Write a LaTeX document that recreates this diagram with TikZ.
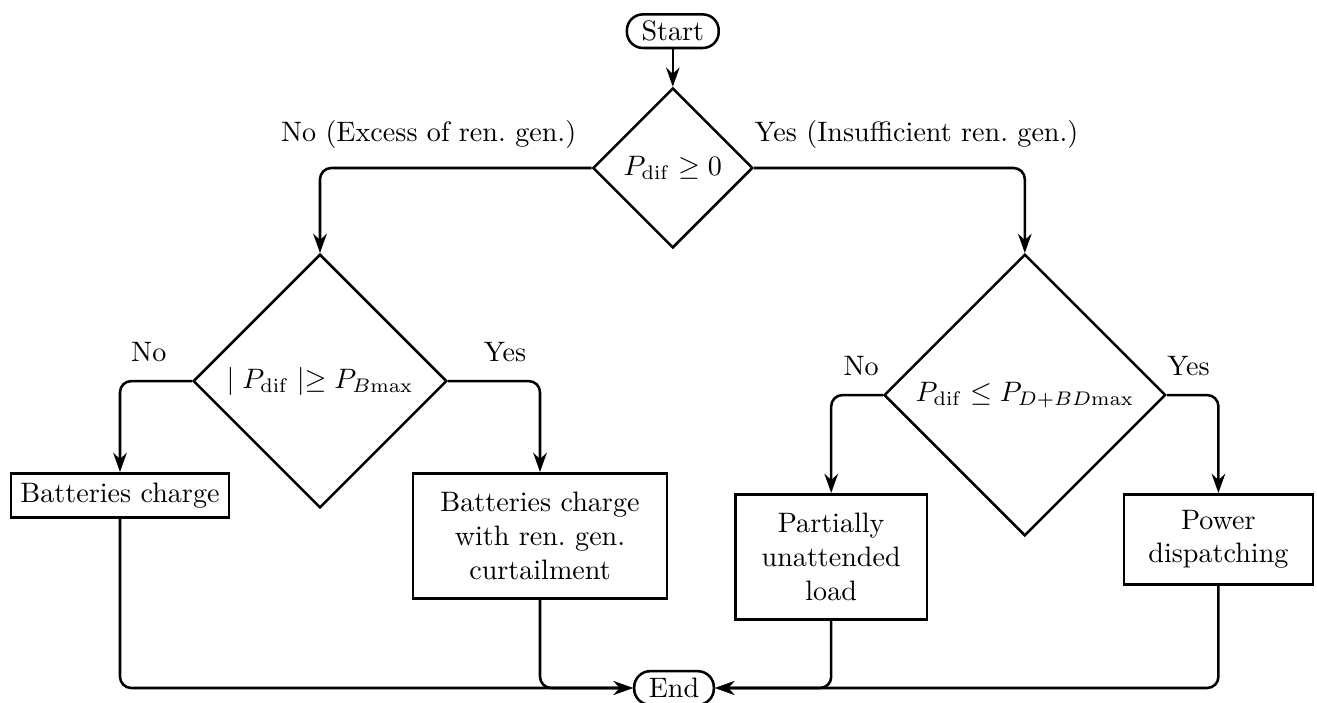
\documentclass[tikz,border=0pt]{standalone}
\usepackage{amsmath}
\usepackage{amssymb}
\usepackage{tikz}
\usetikzlibrary{arrows.meta, shapes.geometric}

\begin{document}
\begin{tikzpicture}[
    terminal/.style={draw, line width=0.9pt, rounded corners=2mm, minimum height=0.42cm, inner xsep=5.2pt, inner ysep=1pt},
    decision/.style={draw, line width=0.9pt, diamond, aspect=1, inner sep=0pt},
    process/.style={draw, line width=0.9pt, rectangle, align=center, anchor=north},
    arr/.style={-{Stealth[length=2.4mm, width=1.7mm]}, line width=0.9pt, rounded corners},
    lbl/.style={above=3pt, inner sep=3.33pt},
]
\useasboundingbox (0,0) rectangle (16.4625,-8.7875);

\node[terminal] (start) at (8.41,-0.39) {Start};
\node[decision, minimum size=2.0cm] (dif) at (8.41,-2.1) {$P_{\mathrm{dif}} \geq 0$};
\node[decision, minimum size=3.17cm, anchor=north] (batt) at (4.0,-3.1625) {$\mid P_{\mathrm{dif}} \mid\geq P_{B\mathrm{max}}$};
\node[decision, minimum size=3.52cm, anchor=north] (disp) at (12.81,-3.1625) {$P_{\mathrm{dif}} \leq P_{D+BD\mathrm{max}}$};

\node[process] (charge) at (1.5,-5.9) {Batteries charge};
\node[process, minimum width=3.175cm, minimum height=1.5625cm] (curtail) at (6.75,-5.9) {Batteries charge\\with ren.\ gen.\\curtailment};
\node[process, minimum width=2.39cm, minimum height=1.5625cm] (unatt) at (10.39,-6.1625) {Partially\\unattended\\load};
\node[process, minimum width=2.36cm, minimum height=1.125cm] (power) at (15.23,-6.1625) {Power\\dispatching};

\node[terminal] (end) at (8.425,-8.6) {End};

\draw[arr] (start) -- (dif);
\draw[arr] (dif.west) -| node[lbl, pos=0.3] {No (Excess of ren.\ gen.)} (batt.north);
\draw[arr] (dif.east) -| node[lbl, pos=0.3] {Yes (Insufficient ren.\ gen.)} (disp.north);
\draw[arr] (batt.west) -| node[lbl, pos=0.3] {No} (charge.north);
\draw[arr] (batt.east) -| node[lbl, pos=0.31] {Yes} (curtail.north);
\draw[arr] (disp.west) -| node[lbl, pos=0.21] {No} (unatt.north);
\draw[arr] (disp.east) -| node[lbl, pos=0.21] {Yes} (power.north);

\draw[arr] (charge.south) |- (end.west);
\draw[arr] (curtail.south) |- (end.west);
\draw[arr] (unatt.south) |- (end.east);
\draw[arr] (power.south) |- (end.east);
\end{tikzpicture}
\end{document}
